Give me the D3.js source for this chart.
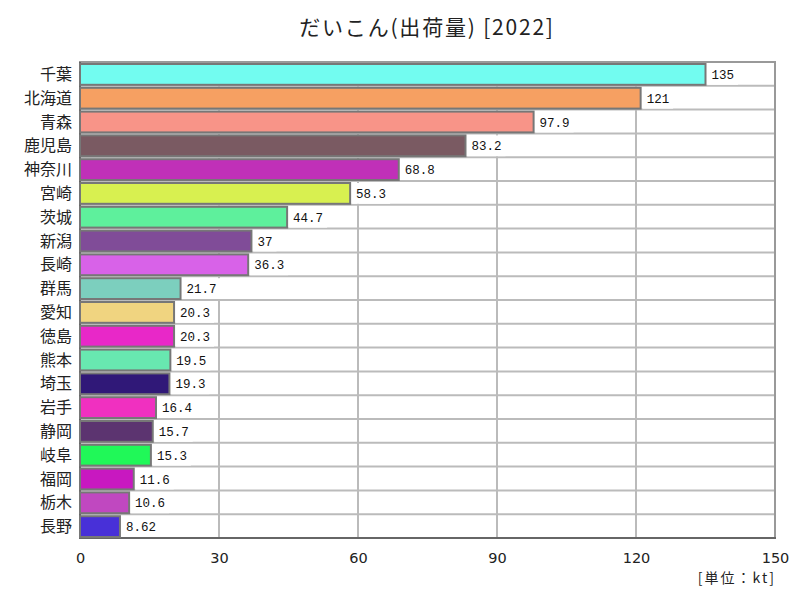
<!DOCTYPE html>
<html><head><meta charset="utf-8">
<script src="https://cdn.jsdelivr.net/npm/d3@7/dist/d3.min.js"></script>
<style>body{margin:0;background:#fff}</style>
</head><body><svg id="c" width="800" height="600"></svg>
<script>
const categories = ["千葉","北海道","青森","鹿児島","神奈川","宮崎","茨城","新潟","長崎","群馬","愛知","徳島","熊本","埼玉","岩手","静岡","岐阜","福岡","栃木","長野"];
const values = [135,121,97.9,83.2,68.8,58.3,44.7,37,36.3,21.7,20.3,20.3,19.5,19.3,16.4,15.7,15.3,11.6,10.6,8.62];
const valueLabels = ["135","121","97.9","83.2","68.8","58.3","44.7","37","36.3","21.7","20.3","20.3","19.5","19.3","16.4","15.7","15.3","11.6","10.6","8.62"];
const colors = ["#72fcf0","#f6a062","#f89488","#7a5a62","#c030b8","#d8f050","#5ef09c","#804c98","#d862e8","#7ccfbe","#f0d480","#e828c8","#68e8b0","#301878","#f030c0","#5c3470","#20f858","#c818c0","#c048c0","#4830d8"];
const ticks = [0,30,60,90,120,150];
const title = "だいこん(出荷量) [2022]";
const unit = "[単位：kt]";

const svg = d3.select("#c");
const m = {l:80, r:25, t:62, b:62};
const W = 800, H = 600;
const x = d3.scaleLinear().domain([0,150]).range([m.l, W-m.r]);
const y = d3.scaleBand().domain(categories).range([m.t, H-m.b]).paddingInner(0).paddingOuter(0);
const font = "'Noto Sans CJK JP', sans-serif";

svg.append("text").attr("x", 427).attr("y", 35).attr("text-anchor","middle")
  .attr("font-family", font).attr("font-size", 21).attr("letter-spacing",1.8).attr("fill","#222").text(title);

const g = svg.append("g");
categories.forEach((c,i)=>{ if(i>0) g.append("line").attr("x1",x(0)).attr("x2",x(150))
  .attr("y1",y(c)).attr("y2",y(c)).attr("stroke","#bbb").attr("stroke-width",2); });
ticks.slice(1,-1).forEach(t=>g.append("line").attr("x1",x(t)).attr("x2",x(t))
  .attr("y1",m.t).attr("y2",H-m.b).attr("stroke","#bbb").attr("stroke-width",2));
g.append("rect").attr("x",x(0)).attr("y",m.t).attr("width",x(150)-x(0)).attr("height",H-m.b-m.t)
  .attr("fill","none").attr("stroke","#999").attr("stroke-width",2);
g.append("line").attr("x1",x(0)).attr("x2",x(0)).attr("y1",m.t).attr("y2",H-m.b+1).attr("stroke","#666").attr("stroke-width",2);
g.append("line").attr("x1",x(0)-1).attr("x2",x(150)+1).attr("y1",H-m.b).attr("y2",H-m.b).attr("stroke","#666").attr("stroke-width",2);

const lab = svg.append("g");
categories.forEach((c,i)=>{
  const tx = x(values[i]) + 2;
  const tw = valueLabels[i].length*7.5 + 8;
  lab.append("rect").attr("x",tx).attr("y",y(c)+2).attr("width",tw).attr("height",y.bandwidth()-3).attr("fill","#fff");
  lab.append("text").attr("x",tx+4).attr("y",y(c)+y.bandwidth()/2+5)
    .attr("font-family","'Liberation Mono', 'DejaVu Sans Mono', monospace").attr("font-size",12.5).attr("fill","#111")
    .text(valueLabels[i]);
});

svg.append("g").selectAll("rect").data(categories).join("rect")
  .attr("x", x(0)).attr("y", d=>y(d)+2)
  .attr("width",(d,i)=>x(values[i])-x(0))
  .attr("height", y.bandwidth()-3)
  .attr("fill",(d,i)=>colors[i]).attr("stroke","#777").attr("stroke-width",2);

svg.append("g").selectAll("text").data(categories).join("text")
  .attr("x", 72).attr("y", d=>y(d)+y.bandwidth()/2+6).attr("text-anchor","end")
  .attr("font-family",font).attr("font-size",16).attr("fill","#222").text(d=>d);

const ax = d3.axisBottom(x).tickValues(ticks).tickSize(0).tickPadding(0);
const axg = svg.append("g").attr("transform",`translate(0,${H-m.b+25})`).call(ax);
axg.select(".domain").remove();
axg.selectAll("text").attr("font-family","'DejaVu Sans', sans-serif").attr("font-size",14.5).attr("fill","#222").attr("dy","0");

svg.append("text").attr("x", 776).attr("y", 583).attr("text-anchor","end")
  .attr("font-family",font).attr("font-size",14).attr("letter-spacing",2).attr("fill","#222").text(unit);
</script></body></html>
